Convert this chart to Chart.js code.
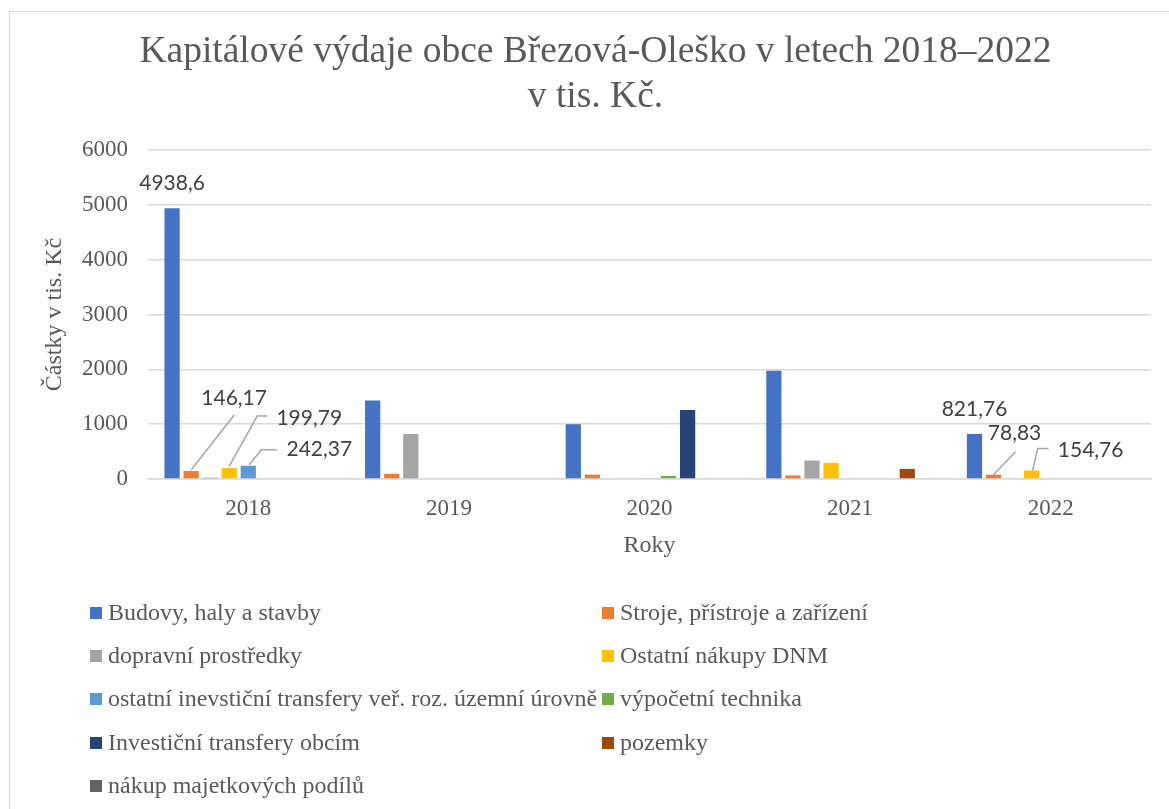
<!DOCTYPE html>
<html>
<head>
<meta charset="utf-8">
<script src="https://cdn.jsdelivr.net/npm/chart.js@4"></script>
<style>
    body { margin: 0; background: #fff; }
    #obal { position: relative; width: 1169px; height: 809px; overflow: hidden; }
    #ramecek { position: absolute; left: 9px; top: 11px; width: 1200px; height: 850px; border: 1px solid #d9d9d9; }
    #graf { position: absolute; left: 0; top: 0; }
    #legenda { position: absolute; left: 0; top: 0; font-family: "Liberation Serif", serif; font-size: 24px; color: #595959; }
    .polozka { position: absolute; white-space: nowrap; line-height: 26px; }
    .ctverec { display: inline-block; width: 12px; height: 12px; margin-right: 6px; vertical-align: 1px; }
</style>
</head>
<body>
<div id="obal">
    <div id="ramecek"></div>
    <canvas id="graf" width="1169" height="809"></canvas>
    <div id="legenda"></div>
</div>
<script>
let roky = ["2018", "2019", "2020", "2021", "2022"];

let budovy = [4938.6, 1430, 1000, 1975, 821.76];
let stroje = [146.17, 95, 80, 66, 78.83];
let dopravni = [25, 820, 0, 337, 0];
let ostatniNakupy = [199.79, 0, 0, 295, 154.76];
let ostatniTransfery = [242.37, 0, 12, 0, 0];
let vypocetni = [0, 0, 55, 0, 0];
let investTransfery = [0, 0, 1260, 0, 0];
let pozemky = [0, 0, 0, 184, 0];
let podily = [0, 0, 0, 0, 0];

let nazvy = [
    "Budovy, haly a stavby",
    "Stroje, přístroje a zařízení",
    "dopravní prostředky",
    "Ostatní nákupy DNM",
    "ostatní inevstiční transfery veř. roz. územní úrovně",
    "výpočetní technika",
    "Investiční transfery obcím",
    "pozemky",
    "nákup majetkových podílů"
];
let rady = [budovy, stroje, dopravni, ostatniNakupy, ostatniTransfery, vypocetni, investTransfery, pozemky, podily];
let barvy = ["#4472C4", "#ED7D31", "#A5A5A5", "#FFC000", "#5B9BD5", "#70AD47", "#264478", "#9E480E", "#636363"];

// ktere hodnoty maji popisek: [rada, rok]
let popisky = [[0, 0], [1, 0], [3, 0], [4, 0], [0, 4], [1, 4], [3, 4]];

// umisteni popisku vuci vrcholu sloupce (styl, ne data)
let umisteni = [
    { dx: 0, dy: -25, cara: null },
    { dx: 43, dy: -73, cara: [[0, -1], [43, -56]] },
    { dx: 80, dy: -50, cara: [[0, -2], [28, -52], [38, -52]] },
    { dx: 71, dy: -16, cara: [[1, -1], [13, -16], [29, -16]] },
    { dx: 0, dy: -25, cara: null },
    { dx: 21, dy: -41, cara: [[0, 0], [22, -23]] },
    { dx: 59, dy: -20, cara: [[1, 0], [6, -22], [17, -22]] }
];

let serif = "'Liberation Serif', 'Times New Roman', serif";
let seda = "#595959";

function formatuj(v) {
    return String(v).replace(".", ",");
}

let popiskyPlugin = {
    id: "popiskyPlugin",
    afterDatasetsDraw(chart) {
        let ctx = chart.ctx;
        ctx.save();
        for (let k = 0; k < popisky.length; k++) {
            let di = popisky[k][0], i = popisky[k][1];
            let bar = chart.getDatasetMeta(di).data[i];
            let u = umisteni[k];
            if (u.cara) {
                ctx.strokeStyle = "#a6a6a6";
                ctx.lineWidth = 1.5;
                ctx.beginPath();
                u.cara.forEach(function (p, j) {
                    if (j === 0) ctx.moveTo(bar.x + p[0], bar.y + p[1]);
                    else ctx.lineTo(bar.x + p[0], bar.y + p[1]);
                });
                ctx.stroke();
            }
            ctx.fillStyle = "#404040";
            ctx.font = "21px Lato, 'Open Sans', sans-serif";
            ctx.textAlign = "center";
            ctx.textBaseline = "middle";
            ctx.fillText(formatuj(rady[di][i]), bar.x + u.dx, bar.y + u.dy);
        }
        ctx.restore();
    }
};

let datasets = [];
for (let i = 0; i < rady.length; i++) {
    datasets.push({
        label: nazvy[i],
        data: rady[i],
        backgroundColor: barvy[i],
        borderWidth: 0,
        categoryPercentage: 0.855,
        barPercentage: 0.8
    });
}

let graf = new Chart(document.getElementById("graf").getContext("2d"), {
    type: "bar",
    data: { labels: roky, datasets: datasets },
    options: {
        responsive: false,
        animation: false,
        layout: { padding: { top: 30, left: 40, right: 18, bottom: 249 } },
        plugins: {
            legend: { display: false },
            tooltip: { enabled: false },
            title: {
                display: true,
                text: ["Kapitálové výdaje obce Březová-Oleško v letech 2018–2022", "v tis. Kč."],
                color: seda,
                font: { family: serif, size: 37.5, weight: "normal", lineHeight: 1.2 },
                padding: { top: 0, bottom: 30 }
            }
        },
        scales: {
            x: {
                afterFit: function (scale) { scale.height = 81; },
                grid: { display: false, drawTicks: false },
                border: { color: "#d9d9d9", width: 1.5 },
                ticks: { color: seda, font: { family: serif, size: 23 }, padding: 16 },
                title: {
                    display: true, text: "Roky", color: seda,
                    font: { family: serif, size: 24 }, padding: { top: 0, bottom: 0 }
                }
            },
            y: {
                min: 0, max: 6000,
                afterFit: function (scale) { scale.width = 108; },
                grid: { color: "#d9d9d9", lineWidth: 1.5, drawTicks: false },
                border: { display: false },
                ticks: {
                    stepSize: 1000, color: seda, font: { family: serif, size: 23 }, padding: 20,
                    callback: function (v) { return String(v); }
                },
                title: {
                    display: true, text: "Částky v tis. Kč", color: seda,
                    font: { family: serif, size: 24 }, padding: { top: 0, bottom: 0 }
                }
            }
        }
    },
    plugins: [popiskyPlugin]
});

// legenda ve dvou sloupcich
let legenda = document.getElementById("legenda");
for (let i = 0; i < nazvy.length; i++) {
    let el = document.createElement("div");
    let vpravo = i % 2 === 1;
    el.className = "polozka";
    el.style.left = (vpravo ? 602 : 90) + "px";
    el.style.top = (599 + Math.floor(i / 2) * 43.2) + "px";
    el.innerHTML = '<span class="ctverec" style="background:' + barvy[i] + '"></span>' + nazvy[i];
    legenda.appendChild(el);
}
</script>
</body>
</html>
